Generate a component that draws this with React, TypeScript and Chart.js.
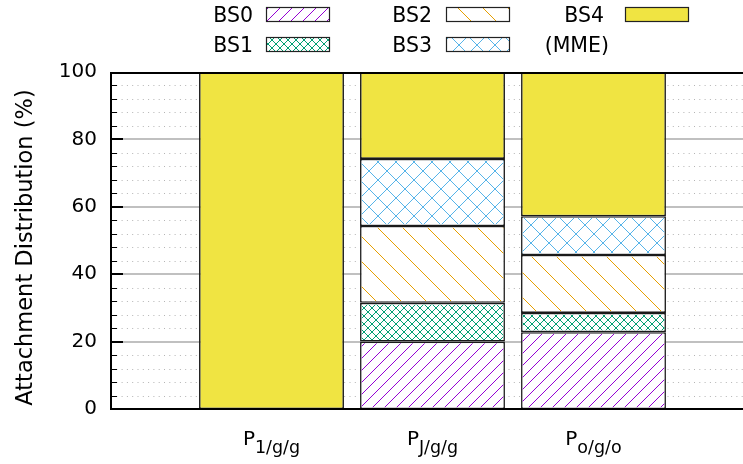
import React, { useEffect, useRef } from 'react';
import { Chart, registerables } from 'chart.js';
Chart.register(...registerables);

// ---- data ----
const categorySubs = ['1/g/g', 'J/g/g', 'o/g/o'];
const categoryPos = [0, 1, 2];
const seriesNames = ['BS0', 'BS1', 'BS2', 'BS3', 'BS4'];
const bs0 = [null, 20.0, 22.8];
const bs1 = [null, 11.5, 5.7];
const bs2 = [null, 22.8, 17.2];
const bs3 = [null, 19.9, 11.5];
const bs4 = [100, 25.8, 42.8];
const yMajorTicks = [0, 20, 40, 60, 80, 100];
const yMinorStep = 4;
const legendExtra = '(MME)';

const FONT = '"DejaVu Sans", sans-serif';

// fill styles per series (kind, line colour, spacing)
const seriesKinds = ['slash', 'cross', 'back', 'cross', 'solid'];
const seriesColors = ['#9400d3', '#009e73', '#e69f00', '#56b4e9', '#f0e442'];
const seriesSpacing = [12, 8, 25, 18, 0];

function drawHatch(ctx: CanvasRenderingContext2D, si: number, l: number, t: number, r: number, b: number) {
  const kind = seriesKinds[si];
  const color = seriesColors[si];
  const p = seriesSpacing[si];
  ctx.save();
  ctx.beginPath();
  ctx.rect(l, t, r - l, b - t);
  ctx.clip();
  if (kind === 'solid') {
    ctx.fillStyle = color;
    ctx.fillRect(l, t, r - l, b - t);
    ctx.restore();
    return;
  }
  ctx.fillStyle = '#ffffff';
  ctx.fillRect(l, t, r - l, b - t);
  ctx.strokeStyle = color;
  ctx.lineWidth = 1;
  ctx.beginPath();
  if (kind === 'slash' || kind === 'cross') {
    for (let k = Math.floor((l + t) / p) - 1; k <= Math.ceil((r + b) / p) + 1; k++) {
      const s = k * p;
      ctx.moveTo(s - b, b);
      ctx.lineTo(s - t, t);
    }
  }
  if (kind === 'back' || kind === 'cross') {
    for (let k = Math.floor((l - b) / p) - 1; k <= Math.ceil((r - t) / p) + 1; k++) {
      const s = k * p;
      ctx.moveTo(s + t, t);
      ctx.lineTo(s + b, b);
    }
  }
  ctx.stroke();
  ctx.restore();
}

export default function App() {
  const ref = useRef<HTMLCanvasElement>(null);
  useEffect(() => {
    const canvas = ref.current!;
    const seriesData = [bs0, bs1, bs2, bs3, bs4];
    const datasets = seriesNames.map((name, si) => ({
      label: name,
      data: categoryPos.map((x, i) => ({ x, y: seriesData[si][i] })),
      backgroundColor: seriesKinds[si] === 'solid' ? seriesColors[si] : '#ffffff',
      borderColor: '#1a1a1a',
      borderWidth: 1.6,
      borderSkipped: false,
      barPercentage: 0.9,
      categoryPercentage: 1.0,
    }));

    const plugin = {
      id: 'gnuplotLook',
      beforeDatasetsDraw(chart: any) {
        const { ctx, chartArea: a, scales } = chart;
        const y = scales.y;
        ctx.save();
        ctx.strokeStyle = '#b4b4b4';
        ctx.lineWidth = 1;
        ctx.setLineDash([1, 4.3]);
        for (let v = yMinorStep; v < 100; v += yMinorStep) {
          if (yMajorTicks.includes(v)) continue;
          const py = Math.round(y.getPixelForValue(v)) + 0.5;
          ctx.beginPath(); ctx.moveTo(a.left, py); ctx.lineTo(a.right, py); ctx.stroke();
        }
        ctx.setLineDash([]);
        ctx.strokeStyle = '#c0c0c0';
        ctx.lineWidth = 2;
        for (const v of yMajorTicks) {
          if (v === 0 || v === 100) continue;
          const py = Math.round(y.getPixelForValue(v));
          ctx.beginPath(); ctx.moveTo(a.left, py); ctx.lineTo(a.right, py); ctx.stroke();
        }
        ctx.restore();
      },
      afterDatasetsDraw(chart: any) {
        const { ctx, chartArea: a, scales } = chart;
        const y = scales.y;
        const x = scales.x;
        // hatch patterns inside the bars drawn by Chart.js
        seriesNames.forEach((_, si) => {
          if (seriesKinds[si] === 'solid') return;
          const meta = chart.getDatasetMeta(si);
          meta.data.forEach((el: any, i: number) => {
            if (seriesData[si][i] == null) return;
            const pr = el.getProps(['x', 'y', 'base', 'width'], true);
            const l = pr.x - pr.width / 2 + 1.6;
            const r = pr.x + pr.width / 2 - 1.6;
            const t = Math.min(pr.y, pr.base) + 1.6;
            const b = Math.max(pr.y, pr.base) - 1.6;
            if (b > t) drawHatch(ctx, si, l, t, r, b);
          });
        });

        ctx.save();
        // inward ticks
        ctx.strokeStyle = '#000';
        for (let v = yMinorStep; v < 100; v += yMinorStep) {
          const major = yMajorTicks.includes(v);
          const py = major ? Math.round(y.getPixelForValue(v)) : Math.round(y.getPixelForValue(v)) + 0.5;
          ctx.lineWidth = major ? 2 : 1;
          ctx.beginPath(); ctx.moveTo(a.left, py); ctx.lineTo(a.left + (major ? 12 : 6), py); ctx.stroke();
        }
        // frame
        ctx.lineWidth = 2;
        ctx.strokeStyle = '#000';
        ctx.beginPath();
        ctx.moveTo(a.right + 2, a.top + 1);
        ctx.lineTo(a.left, a.top + 1);
        ctx.lineTo(a.left, a.bottom);
        ctx.lineTo(a.right + 2, a.bottom);
        ctx.stroke();

        // x labels with subscripts
        ctx.fillStyle = '#000';
        ctx.textBaseline = 'alphabetic';
        categoryPos.forEach((pos, i) => {
          const cx = x.getPixelForValue(pos);
          ctx.font = `20px ${FONT}`;
          const wP = ctx.measureText('P').width;
          ctx.font = `17.5px ${FONT}`;
          const wS = ctx.measureText(categorySubs[i]).width;
          const start = cx - (wP + wS) / 2;
          ctx.textAlign = 'left';
          ctx.font = `20px ${FONT}`;
          ctx.fillText('P', start, 445);
          ctx.font = `17.5px ${FONT}`;
          ctx.fillText(categorySubs[i], start + wP, 453);
        });

        // y title
        ctx.save();
        ctx.translate(32, 247.5);
        ctx.rotate(-Math.PI / 2);
        ctx.font = `22.5px ${FONT}`;
        ctx.textAlign = 'center';
        ctx.fillText('Attachment Distribution (%)', 0, 0);
        ctx.restore();

        // legend
        const entries = [
          { t: seriesNames[0], tx: 253, by: 22, box: [266, 7], si: 0 },
          { t: seriesNames[1], tx: 253, by: 52, box: [266, 37], si: 1 },
          { t: seriesNames[2], tx: 432, by: 22, box: [446, 7], si: 2 },
          { t: seriesNames[3], tx: 432, by: 52, box: [446, 37], si: 3 },
          { t: seriesNames[4], tx: 604, by: 22, box: [625, 7], si: 4 },
          { t: legendExtra, tx: 609, by: 52, box: null, si: -1 },
        ];
        ctx.font = `20.5px ${FONT}`;
        ctx.textAlign = 'right';
        for (const e of entries) {
          ctx.fillStyle = '#000';
          ctx.fillText(e.t, e.tx, e.by);
          if (e.box) {
            const [bx, byy] = e.box as number[];
            drawHatch(ctx, e.si, bx, byy, bx + 64, byy + 15);
            ctx.strokeStyle = '#222';
            ctx.lineWidth = 1.2;
            ctx.strokeRect(bx + 0.5, byy + 0.5, 63, 14);
          }
        }
        ctx.restore();
      },
    };

    const chart = new Chart(canvas, {
      type: 'bar',
      data: { datasets: datasets as any },
      options: {
        animation: false,
        responsive: false,
        devicePixelRatio: 1,
        events: [],
        layout: { padding: { top: 72, left: 0, right: 0, bottom: 55 } },
        plugins: { legend: { display: false }, tooltip: { enabled: false } },
        scales: {
          x: {
            type: 'linear',
            display: false,
            stacked: true,
            offset: false,
            min: -0.9969,
            max: 2.9286,
            afterBuildTicks: (s: any) => { s.ticks = categoryPos.map((v) => ({ value: v })); },
            grid: { display: false },
          },
          y: {
            stacked: true,
            min: 0,
            max: 100,
            grid: { display: false, drawTicks: false },
            border: { display: false },
            afterBuildTicks: (s: any) => { s.ticks = yMajorTicks.map((v) => ({ value: v })); },
            afterFit: (s: any) => { s.width = 111; },
            ticks: {
              padding: 14,
              color: '#000',
              font: { family: FONT, size: 20 },
              callback: (v: any) => String(v),
            },
          },
        },
      },
      plugins: [plugin],
    } as any);
    return () => chart.destroy();
  }, []);
  return (
    <div style={{ position: 'fixed', left: 0, top: 0, width: 743, height: 464, background: '#fff' }}>
      <canvas ref={ref} width={743} height={464} />
    </div>
  );
}
